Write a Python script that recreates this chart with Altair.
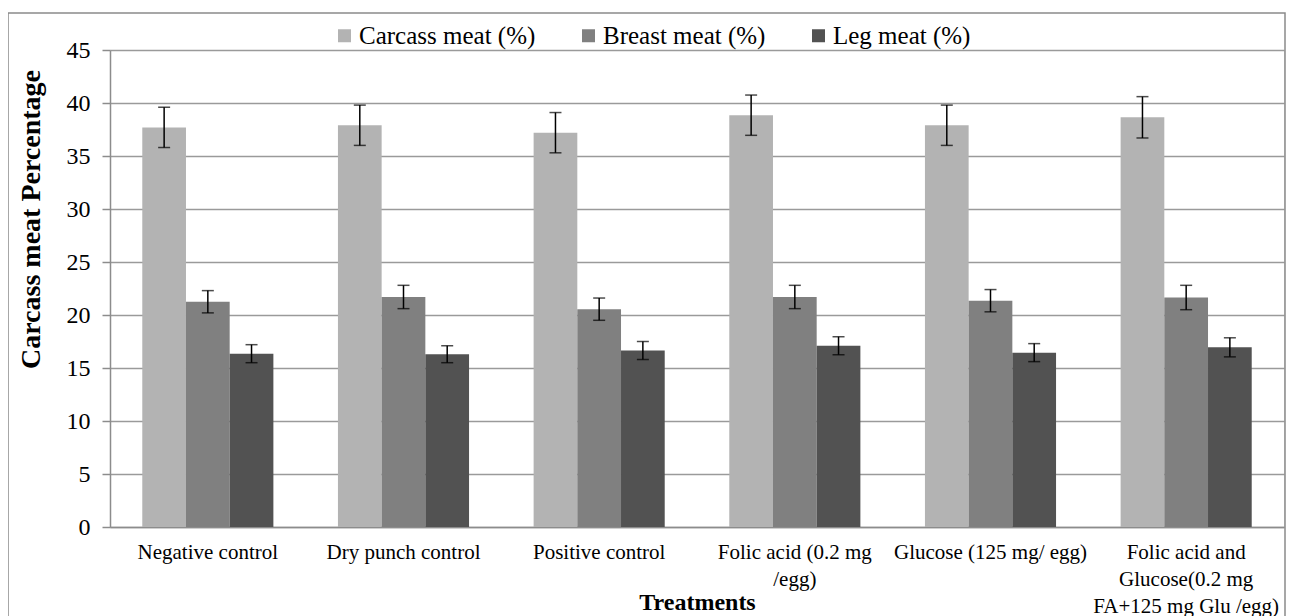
import altair as alt
import pandas as pd

treatments = [
    "Negative control",
    "Dry punch control",
    "Positive control",
    "Folic acid (0.2 mg|/egg)",
    "Glucose (125 mg/ egg)",
    "Folic acid and|Glucose(0.2 mg|FA+125 mg Glu /egg)",
]
series = ["Carcass meat (%)", "Breast meat (%)", "Leg meat (%)"]
carcass = [37.7, 37.9, 37.2, 38.85, 37.9, 38.65]
carcass_err = [1.9, 1.9, 1.9, 1.9, 1.9, 1.95]
breast = [21.25, 21.7, 20.55, 21.7, 21.35, 21.65]
breast_err = [1.05, 1.1, 1.05, 1.1, 1.05, 1.15]
leg = [16.35, 16.3, 16.65, 17.1, 16.45, 16.95]
leg_err = [0.85, 0.8, 0.85, 0.85, 0.85, 0.9]
colors = ["#b3b3b3", "#808080", "#525252"]

rows = []
for vals, errs, s in [(carcass, carcass_err, series[0]), (breast, breast_err, series[1]), (leg, leg_err, series[2])]:
    for t, v, e in zip(treatments, vals, errs):
        rows.append({"treatment": t, "series": s, "value": v, "err": e})
df = pd.DataFrame(rows)

W, H = 1174, 477
FONT = "Liberation Serif"

x = alt.X(
    "treatment:N",
    sort=treatments,
    scale=alt.Scale(paddingInner=0.33, paddingOuter=0.165),
    axis=alt.Axis(
        title="Treatments",
        labelExpr="split(datum.value, '|')",
        labelAngle=0,
        labelFont=FONT,
        labelFontSize=21,
        labelColor="black",
        labelLineHeight=27,
        labelPadding=14,
        labelLimit=0,
        ticks=False,
        domainColor="#8c8c8c",
        domainWidth=1.5,
        titleFont=FONT,
        titleFontSize=24,
        titleFontWeight="bold",
        titleColor="black",
        titleBaseline="middle",
        titleY=75,
    ),
)
xo = alt.XOffset("series:N", sort=series)

base = alt.Chart(df)

bars = base.mark_bar().encode(
    x=x,
    xOffset=xo,
    y=alt.Y(
        "value:Q",
        scale=alt.Scale(domain=[0, 45], nice=False),
        axis=alt.Axis(
            title="Carcass meat Percentage",
            values=list(range(0, 50, 5)),
            labelFont=FONT,
            labelFontSize=24,
            labelColor="black",
            labelPadding=12,
            tickSize=8,
            tickColor="#8c8c8c",
            tickWidth=1.5,
            domainColor="#8c8c8c",
            domainWidth=1.5,
            gridColor="#9a9a9a",
            gridWidth=1.5,
            titleFont=FONT,
            titleFontSize=28,
            titleFontWeight="bold",
            titleColor="black",
            titleX=-79,
            titleY=169,
            titleBaseline="middle",
            titleAngle=-90,
        ),
    ),
    color=alt.Color(
        "series:N",
        sort=series,
        scale=alt.Scale(domain=series, range=colors),
        legend=alt.Legend(
            title=None,
            orient="none",
            legendX=222,
            legendY=-27,
            direction="horizontal",
            symbolType="square",
            symbolSize=169,
            symbolStrokeWidth=0,
            labelFont=FONT,
            labelFontSize=25,
            labelColor="black",
            labelLimit=0,
            labelOffset=2,
            columnPadding=40,
        ),
    ),
)

rules = base.transform_calculate(
    lo="datum.value - datum.err", hi="datum.value + datum.err"
).mark_rule(color="black", strokeWidth=1.5).encode(
    x=x, xOffset=xo, y="lo:Q", y2="hi:Q"
)

caps_hi = base.transform_calculate(hi="datum.value + datum.err").mark_tick(
    color="black", thickness=1.5, size=12
).encode(x=x, xOffset=xo, y="hi:Q")

caps_lo = base.transform_calculate(lo="datum.value - datum.err").mark_tick(
    color="black", thickness=1.5, size=12
).encode(x=x, xOffset=xo, y="lo:Q")

frame = alt.Chart(pd.DataFrame({"a": [0]})).mark_rect(
    fill=None, fillOpacity=0, stroke="#8a8a8a", strokeWidth=1.5
).encode(
    x=alt.value(-102), x2=alt.value(W + 1), y=alt.value(-37), y2=alt.value(H + 120)
)

chart = alt.layer(frame, bars, rules, caps_hi, caps_lo).properties(
    width=W,
    height=H,
    autosize=alt.AutoSizeParams(type="none"),
    padding={"left": 102, "top": 42, "right": 2, "bottom": 89},
).configure_view(stroke=None).configure(background="white", font=FONT)

chart.save("out.html", embed_options={"renderer": "svg", "actions": False})
